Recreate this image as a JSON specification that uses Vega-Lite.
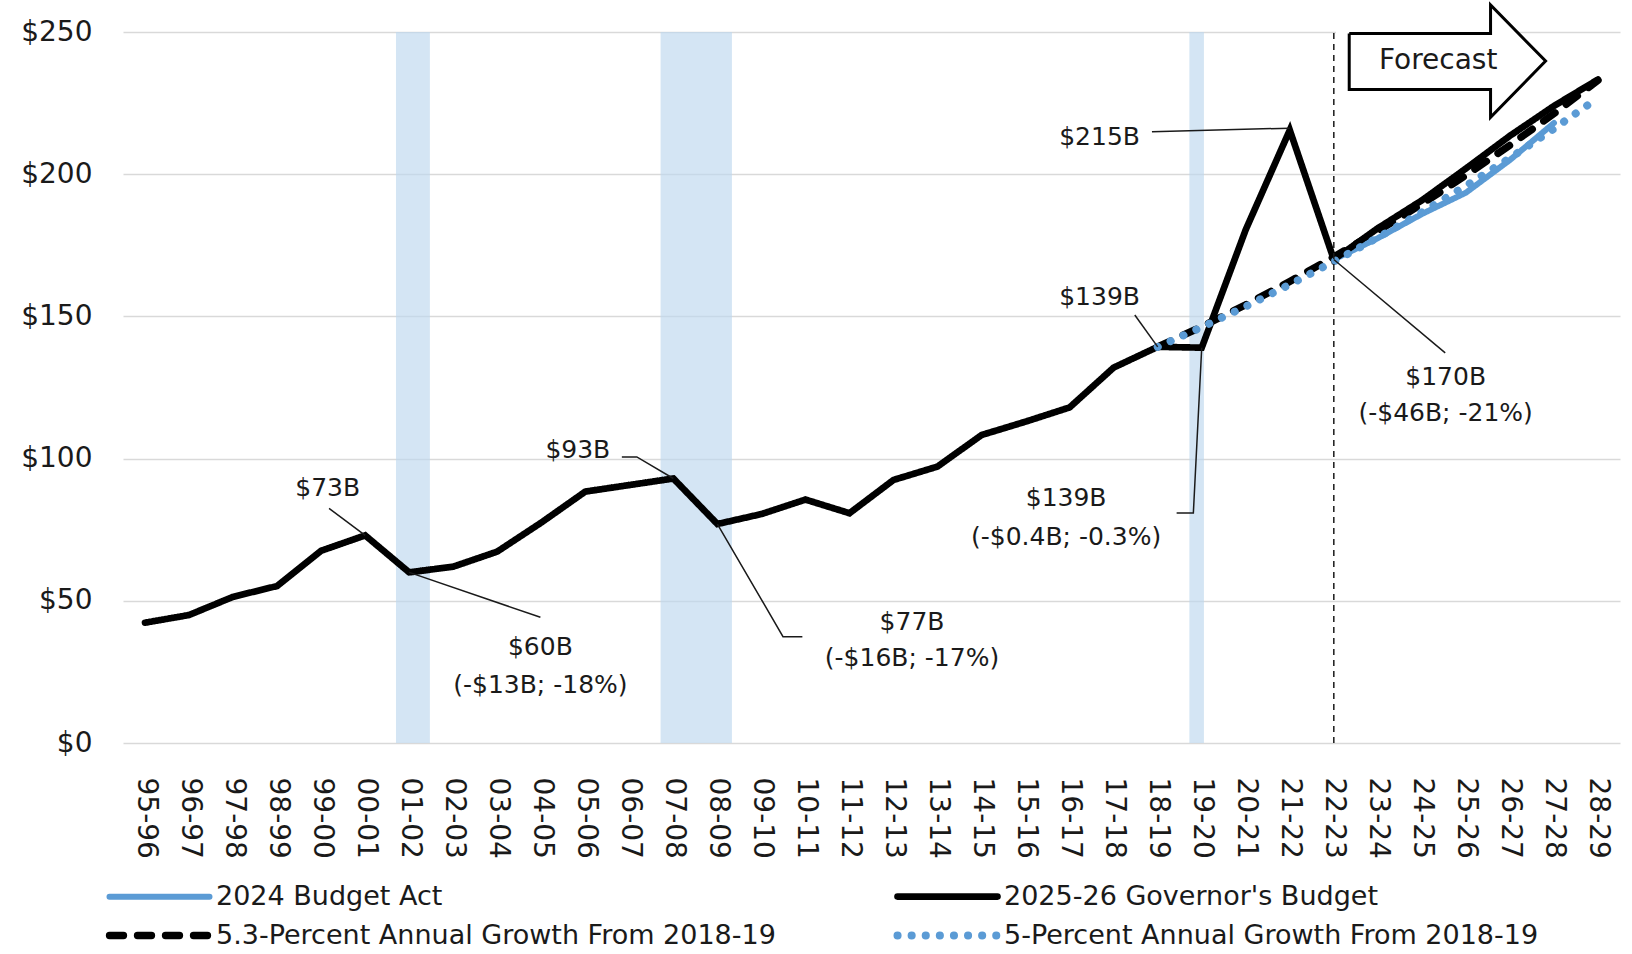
{
  "$schema": "https://vega.github.io/schema/vega-lite/v6.json",
  "autosize": {"type": "none"},
  "width": 1497,
  "height": 711,
  "padding": {"left": 123, "top": 32, "right": 12, "bottom": 211},
  "background": "white",
  "config": {
    "view": {"stroke": null},
    "font": "DejaVu Sans",
    "axis": {"labelFont": "DejaVu Sans", "labelFontSize": 28, "labelColor": "#1a1a1a", "ticks": false, "domain": false, "title": null},
    "axisY": {"grid": true, "gridColor": "#d9d9d9", "gridWidth": 1.5, "labelPadding": 31},
    "axisX": {"grid": false, "labelAngle": 90, "labelAlign": "left", "labelBaseline": "middle", "labelPadding": 34},
    "legend": {"orient": "none", "legendX": 23, "legendY": 851, "columns": 2, "direction": "horizontal", "columnPadding": 105, "rowPadding": 9,
               "symbolType": "M-10,0H10", "symbolSize": 100, "labelFontSize": 27, "labelFont": "DejaVu Sans", "labelColor": "#1a1a1a", "labelOffset": 43, "labelLimit": 900}
  },
  "datasets": {
    "bands": [
      {"x1": 2000.70, "x2": 2001.47},
      {"x1": 2006.71, "x2": 2008.33},
      {"x1": 2018.72, "x2": 2019.05}
    ],
    "series": [
      {"year": 2022, "value": 170, "series": "2024 Budget Act"},
      {"year": 2023, "value": 177.5, "series": "2024 Budget Act"},
      {"year": 2024, "value": 186, "series": "2024 Budget Act"},
      {"year": 2025, "value": 193.5, "series": "2024 Budget Act"},
      {"year": 2026, "value": 205, "series": "2024 Budget Act"},
      {"year": 2027, "value": 218, "series": "2024 Budget Act"},
      {"year": 1995, "value": 42.3, "series": "2025-26 Governor's Budget"},
      {"year": 1996, "value": 45, "series": "2025-26 Governor's Budget"},
      {"year": 1997, "value": 51.4, "series": "2025-26 Governor's Budget"},
      {"year": 1998, "value": 55.2, "series": "2025-26 Governor's Budget"},
      {"year": 1999, "value": 67.6, "series": "2025-26 Governor's Budget"},
      {"year": 2000, "value": 73, "series": "2025-26 Governor's Budget"},
      {"year": 2001, "value": 60, "series": "2025-26 Governor's Budget"},
      {"year": 2002, "value": 62, "series": "2025-26 Governor's Budget"},
      {"year": 2003, "value": 67.3, "series": "2025-26 Governor's Budget"},
      {"year": 2004, "value": 77.5, "series": "2025-26 Governor's Budget"},
      {"year": 2005, "value": 88.4, "series": "2025-26 Governor's Budget"},
      {"year": 2006, "value": 90.7, "series": "2025-26 Governor's Budget"},
      {"year": 2007, "value": 93, "series": "2025-26 Governor's Budget"},
      {"year": 2008, "value": 77, "series": "2025-26 Governor's Budget"},
      {"year": 2009, "value": 80.5, "series": "2025-26 Governor's Budget"},
      {"year": 2010, "value": 85.6, "series": "2025-26 Governor's Budget"},
      {"year": 2011, "value": 80.8, "series": "2025-26 Governor's Budget"},
      {"year": 2012, "value": 92.5, "series": "2025-26 Governor's Budget"},
      {"year": 2013, "value": 97.2, "series": "2025-26 Governor's Budget"},
      {"year": 2014, "value": 108.3, "series": "2025-26 Governor's Budget"},
      {"year": 2015, "value": 113, "series": "2025-26 Governor's Budget"},
      {"year": 2016, "value": 118, "series": "2025-26 Governor's Budget"},
      {"year": 2017, "value": 132, "series": "2025-26 Governor's Budget"},
      {"year": 2018, "value": 139.3, "series": "2025-26 Governor's Budget"},
      {"year": 2019, "value": 139, "series": "2025-26 Governor's Budget"},
      {"year": 2020, "value": 180.5, "series": "2025-26 Governor's Budget"},
      {"year": 2021, "value": 215.5, "series": "2025-26 Governor's Budget"},
      {"year": 2022, "value": 170, "series": "2025-26 Governor's Budget"},
      {"year": 2023, "value": 181, "series": "2025-26 Governor's Budget"},
      {"year": 2024, "value": 190.8, "series": "2025-26 Governor's Budget"},
      {"year": 2025, "value": 202, "series": "2025-26 Governor's Budget"},
      {"year": 2026, "value": 213.5, "series": "2025-26 Governor's Budget"},
      {"year": 2027, "value": 224, "series": "2025-26 Governor's Budget"},
      {"year": 2028, "value": 233.3, "series": "2025-26 Governor's Budget"},
      {"year": 2018, "value": 139.3, "series": "5.3-Percent Annual Growth From 2018-19"},
      {"year": 2019, "value": 146.4, "series": "5.3-Percent Annual Growth From 2018-19"},
      {"year": 2020, "value": 154.1, "series": "5.3-Percent Annual Growth From 2018-19"},
      {"year": 2021, "value": 162.3, "series": "5.3-Percent Annual Growth From 2018-19"},
      {"year": 2022, "value": 170.9, "series": "5.3-Percent Annual Growth From 2018-19"},
      {"year": 2023, "value": 180, "series": "5.3-Percent Annual Growth From 2018-19"},
      {"year": 2024, "value": 189.5, "series": "5.3-Percent Annual Growth From 2018-19"},
      {"year": 2025, "value": 199.6, "series": "5.3-Percent Annual Growth From 2018-19"},
      {"year": 2026, "value": 210.2, "series": "5.3-Percent Annual Growth From 2018-19"},
      {"year": 2027, "value": 221.3, "series": "5.3-Percent Annual Growth From 2018-19"},
      {"year": 2028, "value": 233, "series": "5.3-Percent Annual Growth From 2018-19"},
      {"year": 2018, "value": 139.3, "series": "5-Percent Annual Growth From 2018-19"},
      {"year": 2019, "value": 146.2, "series": "5-Percent Annual Growth From 2018-19"},
      {"year": 2020, "value": 153.5, "series": "5-Percent Annual Growth From 2018-19"},
      {"year": 2021, "value": 161.2, "series": "5-Percent Annual Growth From 2018-19"},
      {"year": 2022, "value": 169.3, "series": "5-Percent Annual Growth From 2018-19"},
      {"year": 2023, "value": 177.7, "series": "5-Percent Annual Growth From 2018-19"},
      {"year": 2024, "value": 186.6, "series": "5-Percent Annual Growth From 2018-19"},
      {"year": 2025, "value": 195.9, "series": "5-Percent Annual Growth From 2018-19"},
      {"year": 2026, "value": 205.7, "series": "5-Percent Annual Growth From 2018-19"},
      {"year": 2027, "value": 216, "series": "5-Percent Annual Growth From 2018-19"},
      {"year": 2028, "value": 226.8, "series": "5-Percent Annual Growth From 2018-19"}
    ],
    "leaders": [
      {"id": "a", "k": 1, "x": 1999.18, "y": 82.5},
      {"id": "a", "k": 2, "x": 2000, "y": 73},
      {"id": "b", "k": 1, "x": 2001, "y": 60},
      {"id": "b", "k": 2, "x": 2003.98, "y": 44.2},
      {"id": "c", "k": 1, "x": 2005.83, "y": 100.6},
      {"id": "c", "k": 2, "x": 2006.17, "y": 100.6},
      {"id": "c", "k": 3, "x": 2007, "y": 93},
      {"id": "d", "k": 1, "x": 2008, "y": 77},
      {"id": "d", "k": 2, "x": 2009.49, "y": 37.4},
      {"id": "d", "k": 3, "x": 2009.93, "y": 37.4},
      {"id": "e", "k": 1, "x": 2017.48, "y": 150.5},
      {"id": "e", "k": 2, "x": 2018, "y": 139.3},
      {"id": "f", "k": 1, "x": 2018.43, "y": 80.9},
      {"id": "f", "k": 2, "x": 2018.81, "y": 80.9},
      {"id": "f", "k": 3, "x": 2019, "y": 139},
      {"id": "g", "k": 1, "x": 2017.87, "y": 214.9},
      {"id": "g", "k": 2, "x": 2021, "y": 216.2},
      {"id": "h", "k": 1, "x": 2022, "y": 170},
      {"id": "h", "k": 2, "x": 2024.53, "y": 137.2}
    ],
    "labels": [
      {"x": 1999.15, "y": 89.6, "text": "$73B"},
      {"x": 2003.98, "y": 33.9, "text": "$60B"},
      {"x": 2003.98, "y": 20.4, "text": "(-$13B; -18%)"},
      {"x": 2004.83, "y": 103.0, "text": "$93B"},
      {"x": 2012.42, "y": 42.65, "text": "$77B"},
      {"x": 2012.42, "y": 29.9, "text": "(-$16B; -17%)"},
      {"x": 2016.68, "y": 156.9, "text": "$139B"},
      {"x": 2015.92, "y": 86.1, "text": "$139B"},
      {"x": 2015.92, "y": 72.4, "text": "(-$0.4B; -0.3%)"},
      {"x": 2016.68, "y": 213.2, "text": "$215B"},
      {"x": 2024.54, "y": 128.6, "text": "$170B"},
      {"x": 2024.54, "y": 115.9, "text": "(-$46B; -21%)"}
    ],
    "arrow": [
      {"k": 1, "x": 2022.35, "y": 249.5},
      {"k": 2, "x": 2025.56, "y": 249.5},
      {"k": 3, "x": 2025.56, "y": 259.5},
      {"k": 4, "x": 2026.81, "y": 239.8},
      {"k": 5, "x": 2025.56, "y": 220.0},
      {"k": 6, "x": 2025.56, "y": 229.8},
      {"k": 7, "x": 2022.35, "y": 229.8},
      {"k": 8, "x": 2022.35, "y": 249.5}
    ]
  },
  "layer": [
    {
      "data": {"name": "bands"},
      "mark": {"type": "rect", "color": "#bdd7ee", "opacity": 0.65},
      "encoding": {
        "x": {"field": "x1", "type": "quantitative", "scale": {"domain": [1994.5, 2028.5], "nice": false, "zero": false},
              "axis": {"values": [1995,1996,1997,1998,1999,2000,2001,2002,2003,2004,2005,2006,2007,2008,2009,2010,2011,2012,2013,2014,2015,2016,2017,2018,2019,2020,2021,2022,2023,2024,2025,2026,2027,2028],
                       "labelExpr": "slice(toString(datum.value), 2) + '-' + slice(toString(datum.value + 1), 2)",
                       "labelOverlap": false, "labelFlush": false, "labelBound": false, "title": null}},
        "x2": {"field": "x2"},
        "y": {"datum": 0, "type": "quantitative", "scale": {"domain": [0, 250], "nice": false},
              "axis": {"values": [0, 50, 100, 150, 200, 250], "labelExpr": "'$' + datum.value", "title": null}},
        "y2": {"datum": 250}
      }
    },
    {
      "data": {"name": "series"},
      "transform": [{"filter": "datum.series === '5.3-Percent Annual Growth From 2018-19'"}],
      "mark": {"type": "line", "strokeCap": "round", "strokeJoin": "miter"},
      "encoding": {
        "x": {"field": "year", "type": "quantitative"},
        "y": {"field": "value", "type": "quantitative"},
        "color": {"field": "series", "type": "nominal",
                  "scale": {"domain": ["2024 Budget Act", "2025-26 Governor's Budget", "5.3-Percent Annual Growth From 2018-19", "5-Percent Annual Growth From 2018-19"],
                            "range": ["#5b9bd5", "#000000", "#000000", "#5b9bd5"]},
                  "legend": {"title": null, "encode": {"symbols": {"update": {"strokeCap": {"value": "round"}}}}}},
        "strokeDash": {"field": "series", "type": "nominal",
                       "scale": {"domain": ["2024 Budget Act", "2025-26 Governor's Budget", "5.3-Percent Annual Growth From 2018-19", "5-Percent Annual Growth From 2018-19"],
                                 "range": [[1, 0], [1, 0], [14, 14], [0.1, 14]]},
                       "legend": {"title": null, "encode": {"symbols": {"update": {"strokeCap": {"value": "round"}}}}}},
        "strokeWidth": {"field": "series", "type": "nominal",
                        "scale": {"domain": ["2024 Budget Act", "2025-26 Governor's Budget", "5.3-Percent Annual Growth From 2018-19", "5-Percent Annual Growth From 2018-19"],
                                  "range": [6, 8, 5, 5.5]},
                        "legend": {"title": null, "encode": {"symbols": {"update": {"strokeCap": {"value": "round"}}}}}},
        "order": {"field": "year", "type": "quantitative"}
      }
    },
    {
      "data": {"name": "series"},
      "transform": [{"filter": "datum.series === '2024 Budget Act'"}],
      "mark": {"type": "line", "strokeCap": "round", "strokeJoin": "miter"},
      "encoding": {
        "x": {"field": "year", "type": "quantitative"},
        "y": {"field": "value", "type": "quantitative"},
        "color": {"field": "series", "type": "nominal", "legend": {"title": null, "encode": {"symbols": {"update": {"strokeCap": {"value": "round"}}}}}},
        "strokeDash": {"field": "series", "type": "nominal", "legend": {"title": null, "encode": {"symbols": {"update": {"strokeCap": {"value": "round"}}}}}},
        "strokeWidth": {"field": "series", "type": "nominal", "legend": {"title": null, "encode": {"symbols": {"update": {"strokeCap": {"value": "round"}}}}}},
        "order": {"field": "year", "type": "quantitative"}
      }
    },
    {
      "data": {"name": "series"},
      "transform": [{"filter": "datum.series === '2025-26 Governor\\'s Budget'"}],
      "mark": {"type": "line", "strokeCap": "round", "strokeJoin": "miter"},
      "encoding": {
        "x": {"field": "year", "type": "quantitative"},
        "y": {"field": "value", "type": "quantitative"},
        "color": {"field": "series", "type": "nominal", "legend": {"title": null, "encode": {"symbols": {"update": {"strokeCap": {"value": "round"}}}}}},
        "strokeDash": {"field": "series", "type": "nominal", "legend": {"title": null, "encode": {"symbols": {"update": {"strokeCap": {"value": "round"}}}}}},
        "strokeWidth": {"field": "series", "type": "nominal", "legend": {"title": null, "encode": {"symbols": {"update": {"strokeCap": {"value": "round"}}}}}},
        "order": {"field": "year", "type": "quantitative"}
      }
    },
    {
      "data": {"name": "series"},
      "transform": [{"filter": "datum.series === '5-Percent Annual Growth From 2018-19'"}],
      "mark": {"type": "line", "strokeCap": "round", "strokeJoin": "miter"},
      "encoding": {
        "x": {"field": "year", "type": "quantitative"},
        "y": {"field": "value", "type": "quantitative"},
        "color": {"field": "series", "type": "nominal", "legend": {"title": null, "encode": {"symbols": {"update": {"strokeCap": {"value": "round"}}}}}},
        "strokeDash": {"field": "series", "type": "nominal", "legend": {"title": null, "encode": {"symbols": {"update": {"strokeCap": {"value": "round"}}}}}},
        "strokeWidth": {"field": "series", "type": "nominal", "legend": {"title": null, "encode": {"symbols": {"update": {"strokeCap": {"value": "round"}}}}}},
        "order": {"field": "year", "type": "quantitative"}
      }
    },
    {
      "data": {"name": "leaders"},
      "mark": {"type": "line", "color": "#1a1a1a", "strokeWidth": 1.5},
      "encoding": {
        "x": {"field": "x", "type": "quantitative"},
        "y": {"field": "y", "type": "quantitative"},
        "detail": {"field": "id", "type": "nominal"},
        "order": {"field": "k", "type": "quantitative"}
      }
    },
    {
      "data": {"name": "labels"},
      "mark": {"type": "text", "font": "DejaVu Sans", "fontSize": 25, "color": "#1a1a1a", "align": "center", "baseline": "middle"},
      "encoding": {
        "x": {"field": "x", "type": "quantitative"},
        "y": {"field": "y", "type": "quantitative"},
        "text": {"field": "text", "type": "nominal"}
      }
    },
    {
      "data": {"values": [{"x": 2022}]},
      "mark": {"type": "rule", "color": "#1a1a1a", "strokeWidth": 1.5, "strokeDash": [6, 5]},
      "encoding": {
        "x": {"field": "x", "type": "quantitative"},
        "y": {"datum": 0, "type": "quantitative"},
        "y2": {"datum": 250}
      }
    },
    {
      "data": {"values": [{"x1": 2022.05, "x2": 2026.16, "y1": 229.8, "y2": 250.6}]},
      "mark": {"type": "rect", "color": "white"},
      "encoding": {
        "x": {"field": "x1", "type": "quantitative"},
        "x2": {"field": "x2"},
        "y": {"field": "y1", "type": "quantitative"},
        "y2": {"field": "y2"}
      }
    },
    {
      "data": {"name": "arrow"},
      "mark": {"type": "line", "color": "#000000", "strokeWidth": 3, "strokeJoin": "miter"},
      "encoding": {
        "x": {"field": "x", "type": "quantitative"},
        "y": {"field": "y", "type": "quantitative"},
        "order": {"field": "k", "type": "quantitative"}
      }
    },
    {
      "data": {"values": [{"x": 2024.37, "y": 239.8, "text": "Forecast"}]},
      "mark": {"type": "text", "font": "DejaVu Sans", "fontSize": 28, "color": "#1a1a1a", "align": "center", "baseline": "middle"},
      "encoding": {
        "x": {"field": "x", "type": "quantitative"},
        "y": {"field": "y", "type": "quantitative"},
        "text": {"field": "text", "type": "nominal"}
      }
    }
  ]
}
